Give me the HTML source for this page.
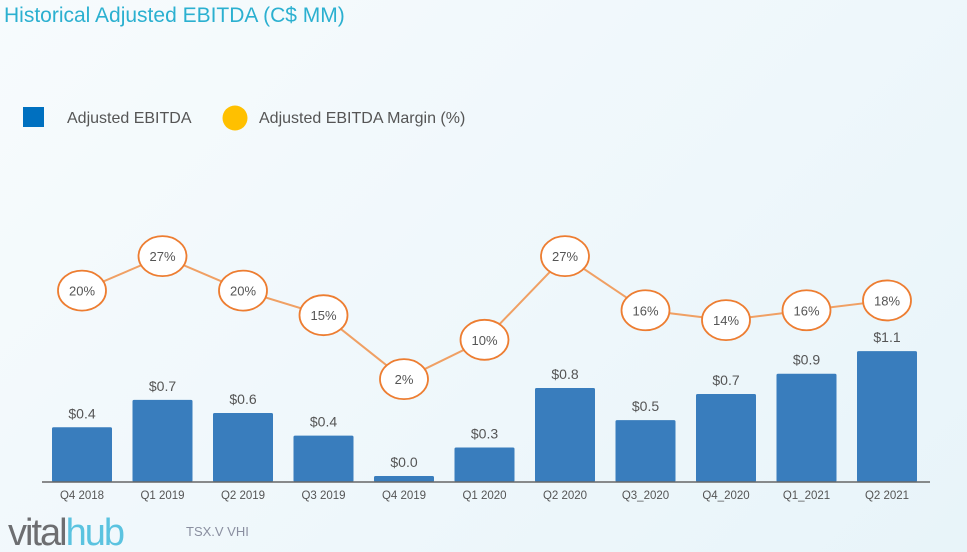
<!DOCTYPE html>
<html><head><meta charset="utf-8"><style>
body{margin:0;width:967px;height:552px;overflow:hidden;background:linear-gradient(135deg,#f7fbfd,#eef7fb 60%,#e8f4f9);font-family:"Liberation Sans",sans-serif}
</style></head><body>
<svg width="967" height="552" style="position:absolute;left:0;top:0">
<text x="4" y="22" font-size="21" fill="#2bb0d0">Historical Adjusted EBITDA (C$ MM)</text>
<rect x="23" y="107" width="21" height="20" fill="#0070c0"/>
<text x="67" y="123" font-size="16" fill="#555">Adjusted EBITDA</text>
<circle cx="235" cy="118" r="12.5" fill="#ffc000"/>
<text x="259" y="123" font-size="16" fill="#555">Adjusted EBITDA Margin (%)</text>
<g id="plot"></g>
<text x="8" y="545" font-size="38" fill="#6d6e71" letter-spacing="-2">vital<tspan fill="#5bc3e0">hub</tspan></text>
<text x="186" y="536" font-size="13" fill="#8a8fa0">TSX.V VHI</text>
</svg>
<script>
const categories=["Q4 2018","Q1 2019","Q2 2019","Q3 2019","Q4 2019","Q1 2020","Q2 2020","Q3_2020","Q4_2020","Q1_2021","Q2 2021"];
const ebitda=[0.46,0.69,0.58,0.39,0.05,0.29,0.79,0.52,0.74,0.91,1.10];
const ebitdaLabels=["$0.4","$0.7","$0.6","$0.4","$0.0","$0.3","$0.8","$0.5","$0.7","$0.9","$1.1"];
const margin=[20,27,20,15,2,10,27,16,14,16,18];
const NS="http://www.w3.org/2000/svg";
const g=document.getElementById('plot');
const base=482;
const x=i=>82+i*80.5;
const yB=v=>base-v*119;
const yM=m=>389-4.92*m;
function mk(t,a){const e=document.createElementNS(NS,t);for(const k in a)e.setAttribute(k,a[k]);g.appendChild(e);return e;}
categories.forEach((c,i)=>{
 const r=mk('rect',{x:x(i)-30,y:yB(ebitda[i]),width:60,height:base-yB(ebitda[i]),fill:'#397dbd',rx:1.5});
 
 
 const v=mk('text',{x:x(i),y:yB(ebitda[i])-9,'text-anchor':'middle','font-size':14,fill:'#555'});v.textContent=ebitdaLabels[i];
 
 
 const t=mk('text',{x:x(i),y:base+17,'text-anchor':'middle','font-size':11.5,fill:'#555'});t.textContent=c;
 
 
});
const ax=mk('line',{x1:42,x2:930,y1:base,y2:base,stroke:'#666','stroke-width':1.5});


const pl=mk('polyline',{points:margin.map((m,i)=>x(i)+','+yM(m)).join(' '),fill:'none',stroke:'#f0a064','stroke-width':2});


margin.forEach((m,i)=>{
 const e=mk('ellipse',{cx:x(i),cy:yM(m),rx:24,ry:20,fill:'#fff',stroke:'#ed7d31','stroke-width':1.8});
 
 
 const t=mk('text',{x:x(i),y:yM(m)+5,'text-anchor':'middle','font-size':13,fill:'#555'});t.textContent=m+'%';
 
 
});
</script>
</body></html>
